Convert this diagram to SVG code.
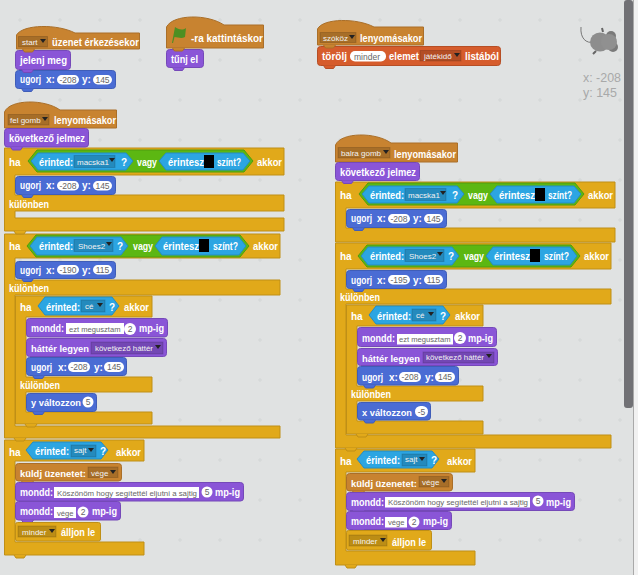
<svg xmlns="http://www.w3.org/2000/svg" xmlns:xlink="http://www.w3.org/1999/xlink" width="638" height="575" viewBox="0 0 638 575">
<style>
text{font-family:"Liberation Sans",Arial,sans-serif}
.t{fill:#fff;font-size:10px;font-weight:bold;stroke:none}
.t9{font-size:9px}
.i{fill:#f2f2f2;font-size:8px;stroke:none}
.n{fill:#666;font-size:8.5px;stroke:none}
.n7{font-size:7.6px}
.m{fill:#4a6cd4;stroke:#3f5db8}
.l{fill:#8a55d7;stroke:#7549b8}
.c{fill:#e1a91a;stroke:#bf8f16}
.e{fill:#c88330;stroke:#aa6f29}
.d{fill:#d65c2c;stroke:#b64e25}
.s{fill:#2ca5e2;stroke:#258cc0}
.g{fill:#5cb712;stroke:#4e9c0f}
.dd{fill:#000;fill-opacity:.16;stroke:#000;stroke-opacity:.15}
.w{fill:#fff;stroke:none}
.k{fill:#000;stroke:none}
.a{fill:#222;stroke:none}
.co{fill:#a8a9a9;font-size:13px}
</style>
<defs>
<path id="tab" d="M6 0l2 3h8l2-3"/>
<path id="arr" d="M0 0h6l-3 4z"/>
<pattern id="grid" width="40" height="40" patternUnits="userSpaceOnUse"><path d="M18 20h4M20 18v4" stroke="#d3d6d6" stroke-width="1" fill="none"/></pattern>
</defs>
<rect width="638" height="575" fill="#e0e2e2"/>
<rect width="624" height="575" fill="url(#grid)"/>
<rect x="633" y="0" width="5" height="575" fill="#f1f1f1"/>
<rect x="633" y="0" width="1" height="575" fill="#a9a9a9"/>
<rect x="624" y="0" width="9" height="408" rx="3" fill="#717175"/>

<g id="sprite">
<path d="M594 42C586 44 580 38 581 27" fill="none" stroke="#777" stroke-width="1"/>
<ellipse cx="600" cy="42" rx="10" ry="9.500" fill="#8d8d8d"/>
<circle cx="611" cy="36" r="5" fill="#7a7a7a"/>
<circle cx="613" cy="47" r="5" fill="#7a7a7a"/>
<circle cx="609" cy="42" r="8" fill="#909090"/>
<path d="M596 51l-3 3M603 32l-1-4" stroke="#666" stroke-width="2"/>
</g>
<g id="coords">
<text class="co" x="583" y="82" textLength="38" lengthAdjust="spacingAndGlyphs">x: -208</text>
<text class="co" x="583" y="97" textLength="34" lengthAdjust="spacingAndGlyphs">y: 145</text>
</g>

<g id="script-start">
<g class="m"><rect x="15.500" y="70.500" width="100" height="18" rx="3"/><use href="#tab" x="15.500" y="88.500"/>
<text class="t" x="20" y="83" textLength="21" lengthAdjust="spacingAndGlyphs">ugorj</text><text class="t" x="46" y="83">x:</text>
<rect class="w" x="57" y="75" width="22" height="9.500" rx="4.700"/><text class="n" x="68" y="83" text-anchor="middle">-208</text>
<text class="t" x="82" y="83">y:</text><rect class="w" x="93" y="75" width="19" height="9.500" rx="4.700"/><text class="n" x="102.500" y="83" text-anchor="middle">145</text></g>
<g class="l"><rect x="15.500" y="50.500" width="55" height="19" rx="3"/><use href="#tab" x="15.500" y="69.500"/><text class="t" x="20" y="64" textLength="47" lengthAdjust="spacingAndGlyphs">jelenj meg</text></g>
<g class="e"><path d="M16.500 49V35C23 24 58 24 75 33H139.500V49Z" stroke-linejoin="round"/><use href="#tab" x="16.500" y="49"/>
<rect class="dd" x="18.500" y="36.500" width="29" height="10.500"/><text class="i" x="22" y="45">start</text><use class="a" href="#arr" x="40" y="39"/>
<text class="t" x="52" y="46" textLength="87" lengthAdjust="spacingAndGlyphs">üzenet érkezésekor</text></g>
</g>

<g id="script-flag">
<g class="l"><rect x="166.500" y="49.500" width="37" height="18" rx="3"/><use href="#tab" x="166.500" y="67.500"/><text class="t" x="171" y="63" textLength="27" lengthAdjust="spacingAndGlyphs">tűnj el</text></g>
<g class="e"><path d="M166.500 48V27C173 14 208 14 224 25H263.500V48Z" stroke-linejoin="round"/><use href="#tab" x="166.500" y="48"/>
<path d="M172 43L175 27C178 29 182 31 186 28L185 37C181 39 178 37 174.500 37L173 43Z" fill="#4d8f22" stroke="none"/>
<text class="t" x="191" y="42" textLength="72" lengthAdjust="spacingAndGlyphs">-ra kattintáskor</text></g>
</g>

<g id="script-space">
<g class="d"><rect x="317.500" y="46.500" width="183" height="19" rx="3"/><use href="#tab" x="317.500" y="65.500"/>
<text class="t" x="322" y="60" textLength="25" lengthAdjust="spacingAndGlyphs">törölj</text>
<rect class="w" x="350" y="51" width="36" height="10.500" rx="5"/><text class="n" x="354" y="59.500">minder</text><path class="w" d="M379 53h5l-2.500 3z"/>
<text class="t" x="389" y="60" textLength="30" lengthAdjust="spacingAndGlyphs">elemet</text>
<rect class="dd" x="420" y="50.500" width="41" height="10.500"/><text class="i" x="424" y="59">játékidő</text><use class="a" href="#arr" x="454" y="53"/>
<text class="t" x="465" y="60" textLength="34" lengthAdjust="spacingAndGlyphs">listából</text></g>
<g class="e"><path d="M317.500 45V29C323 18 357 18 374 27H423.500V45Z" stroke-linejoin="round"/><use href="#tab" x="317.500" y="45"/>
<rect class="dd" x="320" y="32.500" width="36" height="10"/><text class="i" x="323" y="41">szóköz</text><use class="a" href="#arr" x="349" y="35"/>
<text class="t" x="360" y="42" textLength="62" lengthAdjust="spacingAndGlyphs">lenyomásakor</text></g>
</g>

<g id="script-up">
<path class="c" d="M4.500 440H144V461H15V542H144V555H4.500Z" stroke-linejoin="round"/><use class="c" href="#tab" x="8" y="555"/>
<path class="c" d="M4.500 234H280V258H15V280H280V295H15V426H280V438H4.500Z" stroke-linejoin="round"/><use class="c" href="#tab" x="8" y="438"/>
<path class="c" d="M4.500 148H284V175H15V195H284V211H15V218H284V231H4.500Z" stroke-linejoin="round"/><use class="c" href="#tab" x="8" y="231"/>
<path class="c" d="M15.500 296H152V317H26V377H152V392H26V412H152V424H15.500Z" stroke-linejoin="round"/><use class="c" href="#tab" x="19" y="424"/>

<g class="e"><path d="M4.500 128V112C10 99 45 99 60 110H116.500V128Z" stroke-linejoin="round"/><use href="#tab" x="4.500" y="128"/>
<rect class="dd" x="8" y="114.500" width="41" height="10.500"/><text class="i" x="10" y="123">fel gomb</text><use class="a" href="#arr" x="42" y="117"/>
<text class="t" x="54" y="124" textLength="62" lengthAdjust="spacingAndGlyphs">lenyomásakor</text></g>
<g class="l"><rect x="4.500" y="128.500" width="84" height="18.500" rx="3"/><use href="#tab" x="4.500" y="147"/><text class="t" x="9" y="142" textLength="76" lengthAdjust="spacingAndGlyphs">következő jelmez</text></g>

<g id="cond1"><text class="t" x="9" y="166">ha</text>
<path class="g" d="M28 161L37 150H244L253 161L244 172H37Z"/>
<path class="s" d="M31 161L38 153H126L133 161L126 170H38Z"/><text class="t" x="39" y="166" textLength="34" lengthAdjust="spacingAndGlyphs">érinted:</text>
<rect class="dd" x="74" y="155.500" width="41" height="12"/><text class="i" x="77" y="165">macska1</text><use class="a" href="#arr" x="109" y="158"/><text class="t" x="121" y="166">?</text>
<text class="t" x="137" y="166" textLength="20" lengthAdjust="spacingAndGlyphs">vagy</text>
<path class="s" d="M159 161L166 153H243L250 161L243 170H166Z"/><text class="t" x="168" y="166" textLength="36" lengthAdjust="spacingAndGlyphs">érintesz</text>
<rect class="k" x="204" y="155" width="10" height="13"/><text class="t" x="217" y="166" textLength="24" lengthAdjust="spacingAndGlyphs">színt?</text>
<text class="t" x="257" y="166" textLength="25" lengthAdjust="spacingAndGlyphs">akkor</text></g>

<g class="m"><rect x="15.500" y="176.500" width="100" height="18" rx="3"/><use href="#tab" x="15.500" y="194.500"/>
<text class="t" x="20" y="189" textLength="21" lengthAdjust="spacingAndGlyphs">ugorj</text><text class="t" x="46" y="189">x:</text>
<rect class="w" x="57" y="181" width="22" height="9.500" rx="4.700"/><text class="n" x="68" y="189" text-anchor="middle">-208</text>
<text class="t" x="82" y="189">y:</text><rect class="w" x="93" y="181" width="19" height="9.500" rx="4.700"/><text class="n" x="102.500" y="189" text-anchor="middle">145</text></g>
<text class="t" x="9" y="208" textLength="40" lengthAdjust="spacingAndGlyphs">különben</text>

<g id="cond2"><text class="t" x="9" y="250">ha</text>
<path class="g" d="M27 246L36 235H240L249 246L240 257H36Z"/>
<path class="s" d="M30 246L37 237H121L128 246L121 255H37Z"/><text class="t" x="39" y="250" textLength="34" lengthAdjust="spacingAndGlyphs">érinted:</text>
<rect class="dd" x="74" y="239.500" width="39" height="12"/><text class="i" x="78" y="249">Shoes2</text><use class="a" href="#arr" x="106" y="242"/><text class="t" x="117" y="250">?</text>
<text class="t" x="133" y="250" textLength="20" lengthAdjust="spacingAndGlyphs">vagy</text>
<path class="s" d="M155 246L162 237H239L246 246L239 255H162Z"/><text class="t" x="163" y="250" textLength="36" lengthAdjust="spacingAndGlyphs">érintesz</text>
<rect class="k" x="199" y="239" width="10" height="13"/><text class="t" x="213" y="250" textLength="25" lengthAdjust="spacingAndGlyphs">színt?</text>
<text class="t" x="253" y="250" textLength="25" lengthAdjust="spacingAndGlyphs">akkor</text></g>

<g class="m"><rect x="15.500" y="261.500" width="100" height="17" rx="3"/><use href="#tab" x="15.500" y="278.500"/>
<text class="t" x="20" y="274" textLength="21" lengthAdjust="spacingAndGlyphs">ugorj</text><text class="t" x="46" y="274">x:</text>
<rect class="w" x="57" y="265" width="22" height="9.500" rx="4.700"/><text class="n" x="68" y="273" text-anchor="middle">-190</text>
<text class="t" x="82" y="274">y:</text><rect class="w" x="93" y="265" width="19" height="9.500" rx="4.700"/><text class="n" x="102.500" y="273" text-anchor="middle">115</text></g>
<text class="t" x="9" y="292" textLength="40" lengthAdjust="spacingAndGlyphs">különben</text>

<g id="cond3"><text class="t" x="20" y="311">ha</text>
<path class="s" d="M38 306L45 297H112L119 306L112 315H45Z"/><text class="t" x="46" y="311" textLength="34" lengthAdjust="spacingAndGlyphs">érinted:</text>
<rect class="dd" x="81" y="300" width="24" height="12"/><text class="i" x="85" y="309">cé</text><use class="a" href="#arr" x="97" y="303"/><text class="t" x="109" y="311">?</text>
<text class="t" x="124" y="311" textLength="25" lengthAdjust="spacingAndGlyphs">akkor</text></g>

<g class="l"><rect x="26.500" y="318.500" width="141" height="18.500" rx="3"/>
<text class="t" x="31" y="332" textLength="33" lengthAdjust="spacingAndGlyphs">mondd:</text>
<rect class="w" x="66" y="323" width="58" height="11"/><text class="n n7" x="69" y="332">ezt megusztam</text>
<circle class="w" cx="130" cy="329" r="6"/><text class="n" x="130" y="332" text-anchor="middle">2</text>
<text class="t" x="139" y="332" textLength="25" lengthAdjust="spacingAndGlyphs">mp-ig</text></g>
<g class="l"><rect x="26.500" y="338.500" width="140" height="18" rx="3"/>
<text class="t t9" x="31" y="352" textLength="58" lengthAdjust="spacingAndGlyphs">háttér legyen</text>
<rect class="dd" x="91" y="342" width="72" height="12"/><text class="i" x="95" y="351" textLength="58" lengthAdjust="spacingAndGlyphs">következő háttér</text><use class="a" href="#arr" x="155" y="345"/></g>
<g class="m"><rect x="26.500" y="357.500" width="100" height="18" rx="3"/><use href="#tab" x="26.500" y="375.500"/>
<text class="t" x="31" y="371" textLength="21" lengthAdjust="spacingAndGlyphs">ugorj</text><text class="t" x="58" y="371">x:</text>
<rect class="w" x="68" y="362" width="22" height="10" rx="5"/><text class="n" x="79" y="370" text-anchor="middle">-208</text>
<text class="t" x="94" y="371">y:</text><rect class="w" x="104" y="362" width="20" height="10" rx="5"/><text class="n" x="114" y="370" text-anchor="middle">145</text></g>
<text class="t" x="20" y="389" textLength="40" lengthAdjust="spacingAndGlyphs">különben</text>
<g class="m"><rect x="26.500" y="393.500" width="70" height="18" rx="3"/><use href="#tab" x="26.500" y="411.500"/>
<text class="t t9" x="31" y="406" textLength="50" lengthAdjust="spacingAndGlyphs">y változzon</text>
<circle class="w" cx="88" cy="402" r="5.500"/><text class="n" x="88" y="405" text-anchor="middle">5</text></g>

<g id="cond4"><text class="t" x="9" y="456">ha</text>
<path class="s" d="M26 450L33 442H101L108 450L101 459H33Z"/><text class="t" x="35" y="455" textLength="34" lengthAdjust="spacingAndGlyphs">érinted:</text>
<rect class="dd" x="71" y="445" width="25" height="12"/><text class="i" x="74" y="453">sajt</text><use class="a" href="#arr" x="88" y="448"/><text class="t" x="100" y="455">?</text>
<text class="t" x="116" y="456" textLength="25" lengthAdjust="spacingAndGlyphs">akkor</text></g>
<g class="e"><rect x="15.500" y="463.500" width="106" height="17.500" rx="3"/><use href="#tab" x="15.500" y="481"/>
<text class="t t9" x="20" y="477" textLength="66" lengthAdjust="spacingAndGlyphs">küldj üzenetet:</text>
<rect class="dd" x="88" y="467" width="30" height="10.500"/><text class="i" x="91" y="476">vége</text><use class="a" href="#arr" x="110" y="470"/></g>
<g class="l"><rect x="15.500" y="482.500" width="228" height="18.500" rx="3"/><use href="#tab" x="15.500" y="501"/>
<text class="t" x="20" y="496" textLength="33" lengthAdjust="spacingAndGlyphs">mondd:</text>
<rect class="w" x="54" y="487" width="145" height="11"/><text class="n n7" x="57" y="495.500" textLength="140" lengthAdjust="spacingAndGlyphs">Köszönöm hogy segítettél eljutni a sajtig</text>
<circle class="w" cx="207" cy="492" r="5.500"/><text class="n" x="207" y="495" text-anchor="middle">5</text>
<text class="t" x="215" y="496" textLength="25" lengthAdjust="spacingAndGlyphs">mp-ig</text></g>
<g class="l"><rect x="15.500" y="501.500" width="105" height="18.500" rx="3"/><use href="#tab" x="15.500" y="520"/>
<text class="t" x="20" y="515" textLength="33" lengthAdjust="spacingAndGlyphs">mondd:</text>
<rect class="w" x="54" y="507" width="22" height="11"/><text class="n n7" x="57" y="515.500">vége</text>
<circle class="w" cx="83" cy="512" r="5.500"/><text class="n" x="83" y="515" text-anchor="middle">2</text>
<text class="t" x="92" y="515" textLength="25" lengthAdjust="spacingAndGlyphs">mp-ig</text></g>
<g class="c"><rect x="15.500" y="522.500" width="85" height="18.500" rx="2"/>
<rect class="dd" x="18" y="526" width="38" height="11"/><text class="i" x="22" y="535">minder</text><use class="a" href="#arr" x="49" y="529"/>
<text class="t" x="61" y="536" textLength="34" lengthAdjust="spacingAndGlyphs">álljon le</text></g>
</g>

<g id="script-left">
<path class="c" d="M335.500 449H475V472H346V551H475V565H335.500Z" stroke-linejoin="round"/><use class="c" href="#tab" x="339" y="565"/>
<path class="c" d="M335.500 243H611V269H346V289H611V304H346V435H611V448H335.500Z" stroke-linejoin="round"/><use class="c" href="#tab" x="339" y="448"/>
<path class="c" d="M335.500 182H615V208H346V228H615V242H335.500Z" stroke-linejoin="round"/>
<path class="c" d="M346.500 305H483V326H357V386H483V401H357V421H483V434H346.500Z" stroke-linejoin="round"/><use class="c" href="#tab" x="350" y="434"/>

<g class="e"><path d="M335.500 162V145C341 132 376 132 391 143H457.500V162Z" stroke-linejoin="round"/><use href="#tab" x="335.500" y="162"/>
<rect class="dd" x="338" y="147.500" width="52" height="10.500"/><text class="i" x="341" y="156">balra gomb</text><use class="a" href="#arr" x="383" y="150"/>
<text class="t" x="394" y="158" textLength="62" lengthAdjust="spacingAndGlyphs">lenyomásakor</text></g>
<g class="l"><rect x="335.500" y="162.500" width="84" height="18" rx="3"/><use href="#tab" x="335.500" y="180.500"/><text class="t" x="340" y="176" textLength="76" lengthAdjust="spacingAndGlyphs">következő jelmez</text></g>

<g transform="translate(331,33)"><text class="t" x="9" y="166">ha</text>
<path class="g" d="M28 161L37 150H244L253 161L244 172H37Z"/>
<path class="s" d="M31 161L38 153H126L133 161L126 170H38Z"/><text class="t" x="39" y="166" textLength="34" lengthAdjust="spacingAndGlyphs">érinted:</text>
<rect class="dd" x="74" y="155.500" width="41" height="12"/><text class="i" x="77" y="165">macska1</text><use class="a" href="#arr" x="109" y="158"/><text class="t" x="121" y="166">?</text>
<text class="t" x="137" y="166" textLength="20" lengthAdjust="spacingAndGlyphs">vagy</text>
<path class="s" d="M159 161L166 153H243L250 161L243 170H166Z"/><text class="t" x="168" y="166" textLength="36" lengthAdjust="spacingAndGlyphs">érintesz</text>
<rect class="k" x="204" y="155" width="10" height="13"/><text class="t" x="217" y="166" textLength="24" lengthAdjust="spacingAndGlyphs">színt?</text>
<text class="t" x="257" y="166" textLength="25" lengthAdjust="spacingAndGlyphs">akkor</text></g>

<g class="m"><rect x="346.500" y="209.500" width="100" height="18" rx="3"/><use href="#tab" x="346.500" y="227.500"/>
<text class="t" x="351" y="222" textLength="21" lengthAdjust="spacingAndGlyphs">ugorj</text><text class="t" x="377" y="222">x:</text>
<rect class="w" x="388" y="214" width="22" height="9.500" rx="4.700"/><text class="n" x="399" y="222" text-anchor="middle">-208</text>
<text class="t" x="413" y="222">y:</text><rect class="w" x="424" y="214" width="19" height="9.500" rx="4.700"/><text class="n" x="433.500" y="222" text-anchor="middle">145</text></g>

<g transform="translate(331,10)"><text class="t" x="9" y="250">ha</text>
<path class="g" d="M27 246L36 235H240L249 246L240 257H36Z"/>
<path class="s" d="M30 246L37 237H121L128 246L121 255H37Z"/><text class="t" x="39" y="250" textLength="34" lengthAdjust="spacingAndGlyphs">érinted:</text>
<rect class="dd" x="74" y="239.500" width="39" height="12"/><text class="i" x="78" y="249">Shoes2</text><use class="a" href="#arr" x="106" y="242"/><text class="t" x="117" y="250">?</text>
<text class="t" x="133" y="250" textLength="20" lengthAdjust="spacingAndGlyphs">vagy</text>
<path class="s" d="M155 246L162 237H239L246 246L239 255H162Z"/><text class="t" x="163" y="250" textLength="36" lengthAdjust="spacingAndGlyphs">érintesz</text>
<rect class="k" x="199" y="239" width="10" height="13"/><text class="t" x="213" y="250" textLength="25" lengthAdjust="spacingAndGlyphs">színt?</text>
<text class="t" x="253" y="250" textLength="25" lengthAdjust="spacingAndGlyphs">akkor</text></g>

<g class="m"><rect x="346.500" y="270.500" width="100" height="18" rx="3"/><use href="#tab" x="346.500" y="288.500"/>
<text class="t" x="351" y="284" textLength="21" lengthAdjust="spacingAndGlyphs">ugorj</text><text class="t" x="377" y="284">x:</text>
<rect class="w" x="388" y="275" width="22" height="9.500" rx="4.700"/><text class="n" x="399" y="283" text-anchor="middle">-195</text>
<text class="t" x="413" y="284">y:</text><rect class="w" x="424" y="275" width="19" height="9.500" rx="4.700"/><text class="n" x="433.500" y="283" text-anchor="middle">115</text></g>
<text class="t" x="340" y="301" textLength="40" lengthAdjust="spacingAndGlyphs">különben</text>

<g transform="translate(331,9)"><text class="t" x="20" y="311">ha</text>
<path class="s" d="M38 306L45 297H112L119 306L112 315H45Z"/><text class="t" x="46" y="311" textLength="34" lengthAdjust="spacingAndGlyphs">érinted:</text>
<rect class="dd" x="81" y="300" width="24" height="12"/><text class="i" x="85" y="309">cé</text><use class="a" href="#arr" x="97" y="303"/><text class="t" x="109" y="311">?</text>
<text class="t" x="124" y="311" textLength="25" lengthAdjust="spacingAndGlyphs">akkor</text></g>

<g class="l"><rect x="357.500" y="327.500" width="139" height="19" rx="3"/>
<text class="t" x="362" y="342" textLength="33" lengthAdjust="spacingAndGlyphs">mondd:</text>
<rect class="w" x="397" y="334" width="56" height="10.500"/><text class="n n7" x="399" y="342">ezt megusztam</text>
<circle class="w" cx="460" cy="338" r="6"/><text class="n" x="460" y="341" text-anchor="middle">2</text>
<text class="t" x="468" y="342" textLength="25" lengthAdjust="spacingAndGlyphs">mp-ig</text></g>
<g class="l"><rect x="357.500" y="348.500" width="140" height="17" rx="3"/>
<text class="t t9" x="362" y="362" textLength="58" lengthAdjust="spacingAndGlyphs">háttér legyen</text>
<rect class="dd" x="423" y="352" width="71" height="11"/><text class="i" x="426" y="360" textLength="58" lengthAdjust="spacingAndGlyphs">következő háttér</text><use class="a" href="#arr" x="486" y="354"/></g>
<g class="m"><rect x="357.500" y="366.500" width="101" height="18.500" rx="3"/><use href="#tab" x="357.500" y="385"/>
<text class="t" x="362" y="381" textLength="21" lengthAdjust="spacingAndGlyphs">ugorj</text><text class="t" x="389" y="381">x:</text>
<rect class="w" x="399" y="372" width="22" height="10" rx="5"/><text class="n" x="410" y="380" text-anchor="middle">-208</text>
<text class="t" x="425" y="381">y:</text><rect class="w" x="435" y="372" width="20" height="10" rx="5"/><text class="n" x="445" y="380" text-anchor="middle">145</text></g>
<text class="t" x="351" y="398" textLength="40" lengthAdjust="spacingAndGlyphs">különben</text>
<g class="m"><rect x="357.500" y="402.500" width="73" height="17.500" rx="3"/><use href="#tab" x="357.500" y="420"/>
<text class="t t9" x="362" y="416" textLength="50" lengthAdjust="spacingAndGlyphs">x változzon</text>
<rect class="w" x="415" y="406" width="13" height="11" rx="5.500"/><text class="n" x="421.500" y="415" text-anchor="middle">-5</text></g>

<g transform="translate(331,9)"><text class="t" x="9" y="456">ha</text>
<path class="s" d="M26 450L33 442H101L108 450L101 459H33Z"/><text class="t" x="35" y="455" textLength="34" lengthAdjust="spacingAndGlyphs">érinted:</text>
<rect class="dd" x="71" y="445" width="25" height="12"/><text class="i" x="74" y="453">sajt</text><use class="a" href="#arr" x="88" y="448"/><text class="t" x="100" y="455">?</text>
<text class="t" x="116" y="456" textLength="25" lengthAdjust="spacingAndGlyphs">akkor</text></g>
<g class="e"><rect x="346.500" y="473.500" width="106" height="17.500" rx="3"/><use href="#tab" x="346.500" y="491"/>
<text class="t t9" x="351" y="487" textLength="66" lengthAdjust="spacingAndGlyphs">küldj üzenetet:</text>
<rect class="dd" x="419" y="476.500" width="30" height="10.500"/><text class="i" x="422" y="485">vége</text><use class="a" href="#arr" x="441" y="479"/></g>
<g class="l"><rect x="346.500" y="492.500" width="228" height="18" rx="3"/><use href="#tab" x="346.500" y="510.500"/>
<text class="t" x="351" y="506" textLength="33" lengthAdjust="spacingAndGlyphs">mondd:</text>
<rect class="w" x="385" y="497" width="145" height="10.500"/><text class="n n7" x="388" y="505" textLength="140" lengthAdjust="spacingAndGlyphs">Köszönöm hogy segítettél eljutni a sajtig</text>
<circle class="w" cx="538" cy="501" r="5.500"/><text class="n" x="538" y="504" text-anchor="middle">5</text>
<text class="t" x="546" y="506" textLength="25" lengthAdjust="spacingAndGlyphs">mp-ig</text></g>
<g class="l"><rect x="346.500" y="511.500" width="105" height="18" rx="3"/><use href="#tab" x="346.500" y="529.500"/>
<text class="t" x="351" y="525" textLength="33" lengthAdjust="spacingAndGlyphs">mondd:</text>
<rect class="w" x="385" y="517" width="22" height="10.500"/><text class="n n7" x="388" y="525">vége</text>
<circle class="w" cx="414" cy="522" r="5.500"/><text class="n" x="414" y="525" text-anchor="middle">2</text>
<text class="t" x="423" y="525" textLength="25" lengthAdjust="spacingAndGlyphs">mp-ig</text></g>
<g class="c"><rect x="346.500" y="530.500" width="85" height="19.500" rx="2"/>
<rect class="dd" x="349" y="535" width="38" height="11"/><text class="i" x="353" y="544">minder</text><use class="a" href="#arr" x="380" y="538"/>
<text class="t" x="392" y="546" textLength="34" lengthAdjust="spacingAndGlyphs">álljon le</text></g>
</g>
</svg>
